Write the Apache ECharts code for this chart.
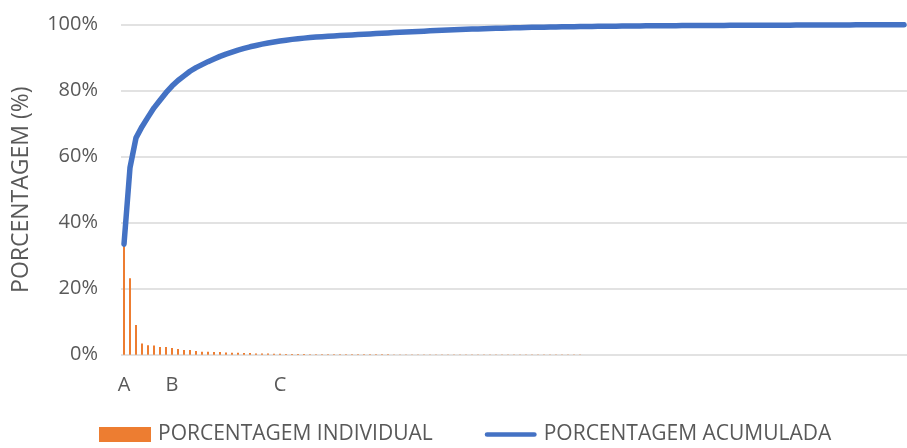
<!DOCTYPE html>
<html>
<head>
<meta charset="utf-8">
<script src="https://cdn.jsdelivr.net/npm/echarts@6/dist/echarts.min.js"></script>
<style>
  html, body { margin: 0; padding: 0; background: #ffffff; }
  #chart { width: 907px; height: 448px; }
</style>
</head>
<body>
<div id="chart"></div>
<script>
// Individual share of each item (%), sorted from largest to smallest
const individual = [
  33.5, 23.2, 9.0, 3.4, 2.9, 2.8, 2.3, 2.3, 2.0, 1.7, 1.4, 1.4, 1.1, 0.9,
  0.9, 0.8, 0.8, 0.7, 0.6, 0.6, 0.5, 0.5, 0.4, 0.4, 0.35, 0.3,
  0.3, 0.25, 0.25,
  0.2, 0.18, 0.16, 0.15, 0.14, 0.12, 0.11, 0.1,
  0.1, 0.1, 0.1, 0.1, 0.1, 0.1, 0.1, 0.1,
  0.09, 0.09, 0.09, 0.09, 0.09, 0.09, 0.09, 0.09,
  0.08, 0.08, 0.07, 0.07, 0.07, 0.06, 0.06, 0.06, 0.06, 0.06, 0.05, 0.05, 0.05, 0.05, 0.05, 0.05,
  0.03, 0.03, 0.03, 0.03, 0.03, 0.03, 0.03, 0.03, 0.02, 0.02, 0.02, 0.02, 0.02, 0.02, 0.02, 0.02,
  0.02, 0.02, 0.02, 0.01, 0.01, 0.01, 0.01, 0.01, 0.01, 0.01, 0.01, 0.01, 0.01, 0.01, 0.01, 0.01, 0.01,
  0.007, 0.007, 0.007, 0.007, 0.007, 0.007, 0.007, 0.007, 0.007, 0.007,
  0.007, 0.007, 0.007, 0.007, 0.007, 0.007, 0.007, 0.007, 0.007, 0.007,
  0.007, 0.007, 0.007, 0.007, 0.007, 0.007, 0.007, 0.007, 0.007
];

// ABC class boundaries: first item of each class
const classNames = ['A', 'B', 'C'];
const classStart = [0, 8, 26];

const yTicks = [0, 20, 40, 60, 80, 100];

// Item identifiers along the x axis
const items = individual.map((_, i) => String(i + 1));

// Running total for the Pareto curve
const cumulative = [];
individual.reduce((acc, v) => {
  const s = acc + v;
  cumulative.push(Math.min(100, +s.toFixed(3)));
  return s;
}, 0);

const classByIndex = {};
classStart.forEach((idx, k) => { classByIndex[idx] = classNames[k]; });

const textColor = '#595959';
const fontFamily = '"Open Sans", "Noto Sans", sans-serif';

// Legend swatch for the cumulative curve: a thick bar centred in a 15px-tall box
const lineIcon = 'path://M0,0h0.01v0.01h-0.01z M0,15h0.01v-0.01h-0.01z ' +
  'M2.5,5h50a2.5,2.5 0 0 1 0,5h-50a2.5,2.5 0 0 1 0,-5z';

const chart = echarts.init(document.getElementById('chart'), null, { renderer: 'canvas' });
chart.setOption({
  animation: false,
  backgroundColor: '#ffffff',
  grid: { left: 121, right: 0, top: 24.7, bottom: 93.3, containLabel: false, outerBoundsMode: 'none' },
  legend: {
    left: 99,
    top: 424,
    padding: 0,
    itemGap: 52,
    itemWidth: 52,
    itemHeight: 15,
    textStyle: { color: textColor, fontFamily, fontSize: 21, padding: [0, 0, 0, 2] },
    data: [
      { name: 'PORCENTAGEM INDIVIDUAL', icon: 'rect' },
      { name: 'PORCENTAGEM ACUMULADA', icon: lineIcon, itemStyle: { color: '#4472c4' } }
    ]
  },
  xAxis: {
    type: 'category',
    data: items,
    boundaryGap: true,
    axisLine: { show: false },
    axisTick: { show: false },
    axisLabel: {
      interval: 0,
      margin: 21,
      color: textColor,
      fontFamily,
      fontSize: 20,
      formatter: (v, i) => classByIndex[i] || ''
    }
  },
  yAxis: {
    type: 'value',
    min: yTicks[0],
    max: yTicks[yTicks.length - 1],
    interval: 20,
    name: 'PORCENTAGEM (%)',
    nameLocation: 'middle',
    nameRotate: 90,
    nameGap: 88,
    nameTextStyle: { color: textColor, fontFamily, fontSize: 23 },
    axisLine: { show: false },
    axisTick: { show: false },
    axisLabel: { color: textColor, fontFamily, fontSize: 20, margin: 23, formatter: '{value}%' },
    splitLine: { lineStyle: { color: '#d9d9d9', width: 1.5 } }
  },
  series: [
    {
      name: 'PORCENTAGEM INDIVIDUAL',
      type: 'bar',
      data: individual,
      barWidth: 2,
      itemStyle: { color: '#ed7d31' }
    },
    {
      name: 'PORCENTAGEM ACUMULADA',
      type: 'line',
      data: cumulative,
      symbol: 'none',
      smooth: false,
      lineStyle: { color: '#4472c4', width: 5.5, cap: 'round', join: 'round' },
      itemStyle: { color: '#4472c4' }
    }
  ]
});
</script>
</body>
</html>
